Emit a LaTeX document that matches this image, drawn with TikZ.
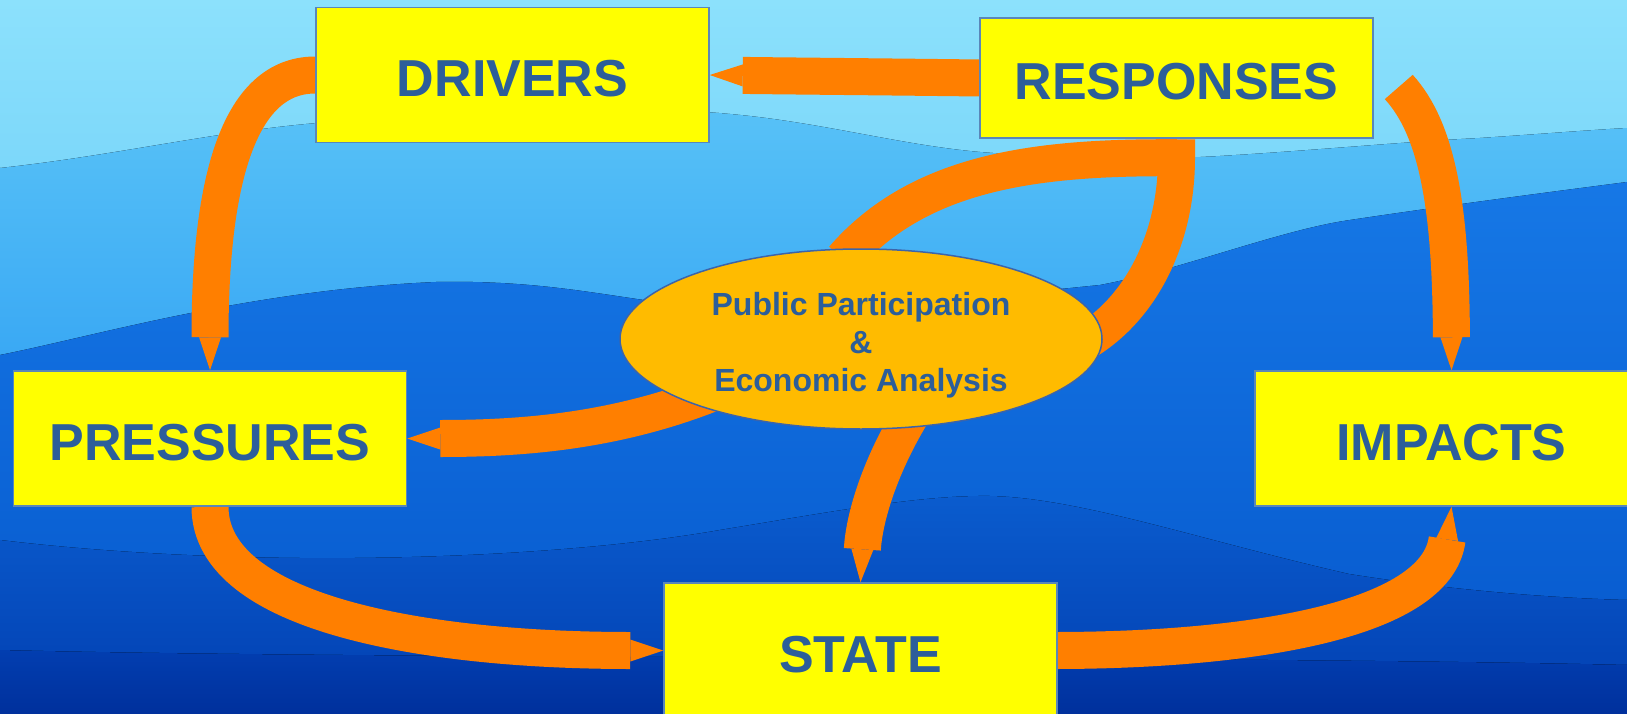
\documentclass[tikz,border=0pt]{standalone}
\usepackage{fontspec}
\setmainfont{Liberation Sans}
\usetikzlibrary{calc,shapes.geometric}
\definecolor{txt}{RGB}{44,94,154}
\definecolor{boxfill}{RGB}{255,255,0}
\definecolor{boxline}{RGB}{90,135,185}
\definecolor{arr}{RGB}{255,127,0}
\definecolor{ellfill}{RGB}{255,187,0}
\definecolor{ellline}{RGB}{60,100,170}
\definecolor{skyA}{RGB}{140,225,252}
\definecolor{skyB}{RGB}{112,208,248}
\definecolor{ridgeA}{RGB}{88,194,247}
\definecolor{ridgeB}{RGB}{50,162,243}
\definecolor{forA}{RGB}{22,120,230}
\definecolor{forB}{RGB}{8,92,208}
\definecolor{hillA}{RGB}{10,92,206}
\definecolor{hillB}{RGB}{2,62,176}
\definecolor{lowA}{RGB}{2,62,176}
\definecolor{lowB}{RGB}{0,48,156}
\pgfdeclarelayer{bg}\pgfdeclarelayer{arrows}
\pgfsetlayers{bg,arrows,main}
\newcommand\bandarrow[4]{%
  \draw[band,shorten >=33pt] #1 .. controls #2 and #3 .. #4;
  \fill[arr] #4 -- ($#4!33pt!#3!11pt!90:#4$) -- ($#4!33pt!#3!11pt!-90:#4$) -- cycle;}
\begin{document}
\begin{tikzpicture}[x=1pt,y=-1pt,
  dpsirbox/.style={rectangle,draw=boxline,line width=1.5pt,fill=boxfill,
    minimum width=393pt,minimum height=135pt,inner sep=0pt,text=txt,
    font=\fontsize{52}{60}\selectfont\bfseries,text height=43pt,text depth=0pt},
  band/.style={draw=arr,line width=37pt}]
\useasboundingbox (0,0) rectangle (1627,714);
% boxes
\node[dpsirbox] (drivers) at (512.5,75) {DRIVERS};
\node[dpsirbox,minimum height=120pt] (responses) at (1176.5,78) {RESPONSES};
\node[dpsirbox] (pressures) at (210,438.5) {PRESSURES};
\node[dpsirbox] (impacts) at (1451.5,438.5) {IMPACTS};
\node[dpsirbox] (state) at (860.5,650.5) {STATE};
\node[ellipse,draw=ellline,line width=1.5pt,fill=ellfill,minimum width=482pt,
  minimum height=180pt,inner sep=0pt] (pp) at (861,339) {};
\node[align=center,text=txt,font=\fontsize{32}{38}\selectfont\bfseries]
  (pptext) at (861,345) {Public Participation\\\&\\Economic Analysis};
% background
\begin{pgfonlayer}{bg}
\fill[top color=skyA,bottom color=skyB] (0,0) rectangle (1627,300);
\fill[top color=ridgeA,bottom color=ridgeB] (0,168) .. controls (120,155) and (220,130) .. (330,122)
  .. controls (480,112) and (640,105) .. (730,114) .. controls (820,122) and (900,145) .. (980,152)
  .. controls (1080,160) and (1150,160) .. (1220,156) .. controls (1320,150) and (1400,142) .. (1480,138)
  .. controls (1540,134) and (1590,130) .. (1627,128) -- (1627,420) -- (0,420) -- cycle;
\fill[top color=forA,bottom color=forB] (0,355) .. controls (100,335) and (250,290) .. (436,282)
  .. controls (540,280) and (600,295) .. (680,305) .. controls (800,318) and (950,300) .. (1100,285)
  .. controls (1180,270) and (1280,230) .. (1350,220) .. controls (1450,205) and (1550,192) .. (1627,182)
  -- (1627,620) -- (0,620) -- cycle;
\fill[top color=hillA,bottom color=hillB] (0,540) .. controls (250,570) and (550,560) .. (720,530)
  .. controls (830,512) and (920,495) .. (990,496) .. controls (1080,498) and (1200,540) .. (1349,574)
  .. controls (1450,590) and (1550,598) .. (1627,600) -- (1627,714) -- (0,714) -- cycle;
\fill[top color=lowA,bottom color=lowB] (0,650) .. controls (400,660) and (1200,655) .. (1627,665)
  -- (1627,714) -- (0,714) -- cycle;
\end{pgfonlayer}
% arrows
\begin{pgfonlayer}{arrows}
\bandarrow{(drivers.west)}{(232,75)}{(210,200)}{(pressures.north)}
\bandarrow{(responses.west)}{(900,77)}{(790,76)}{(drivers.east)}
\bandarrow{($(responses.east)+(25,9)$)}{(1438,130)}{(1451,210)}{(impacts.north)}
\bandarrow{(pressures.south)}{(210,615)}{(430,650.5)}{(state.west)}
\bandarrow{(state.east)}{(1245,650)}{(1436,622)}{(impacts.south)}
\bandarrow{($(pp.center)+(-146,53)$)}{(615,432)}{(520,438.5)}{(pressures.east)}
\bandarrow{($(pp.center)+(50,76)$)}{(878,470)}{(864,520)}{(state.north)}
\draw[band,line join=miter] ($(pp.center)+(-18,-80)$) .. controls (920,170) and (1040,157) ..
  ($(responses.south)+(0,19)$) .. controls (1176.5,240) and (1140,310) .. ($(pp.center)+(222,4)$);
\end{pgfonlayer}
\end{tikzpicture}
\end{document}
